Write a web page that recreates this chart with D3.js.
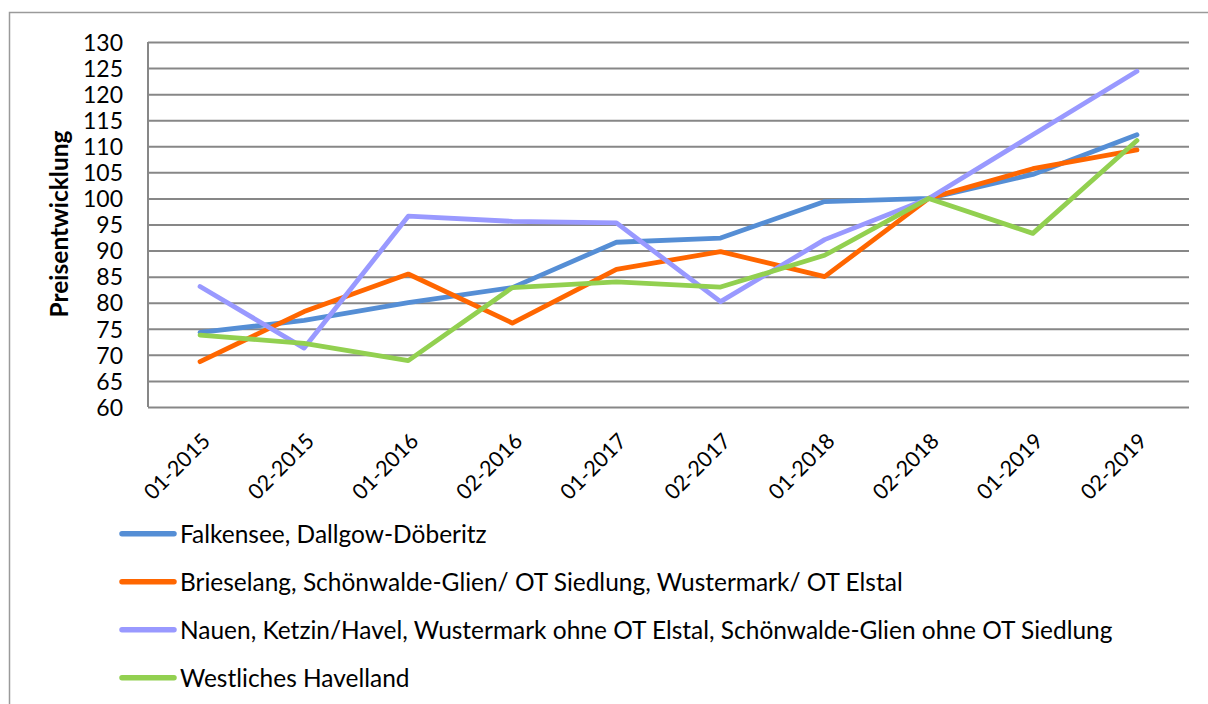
<!DOCTYPE html>
<html>
<head>
<meta charset="utf-8">
<script src="https://cdn.jsdelivr.net/npm/d3@7"></script>
<style>
  body { margin: 0; background: #fff; }
  svg { display: block; font-family: Lato, "Open Sans", sans-serif; }
</style>
</head>
<body>
<script>
const kategorien = ['01-2015', '02-2015', '01-2016', '02-2016', '01-2017', '02-2017', '01-2018', '02-2018', '01-2019', '02-2019'];

const falkensee = [74.3, 76.6, 80.0, 82.9, 91.6, 92.4, 99.4, 100, 104.6, 112.2];
const brieselang = [68.7, 78.3, 85.5, 76.1, 86.4, 89.8, 85.0, 100, 105.7, 109.3];
const nauen = [83.1, 71.3, 96.6, 95.6, 95.3, 80.2, 92.1, 100, 112.2, 124.4];
const westlich = [73.8, 72.2, 68.9, 82.9, 84.0, 83.0, 89.1, 100, 93.3, 111.1];

const serienNamen = [
  'Falkensee, Dallgow-Döberitz',
  'Brieselang, Schönwalde-Glien/ OT Siedlung, Wustermark/ OT Elstal',
  'Nauen, Ketzin/Havel, Wustermark ohne OT Elstal, Schönwalde-Glien ohne OT Siedlung',
  'Westliches Havelland'
];
const farben = ['#558ed5', '#ff6600', '#9999ff', '#92d050'];
const yTicks = d3.range(60, 131, 5);

const serien = [falkensee, brieselang, nauen, westlich];

const width = 1208;
const height = 704;

const svg = d3.select('body')
  .append('svg')
  .attr('width', width)
  .attr('height', height);

// rahmen
svg.append('rect')
  .attr('x', 9.5)
  .attr('y', 12.5)
  .attr('width', 1220)
  .attr('height', 720)
  .attr('fill', 'none')
  .attr('stroke', '#9a9a9a')
  .attr('stroke-width', 1.5);

const escalaX = d3.scalePoint()
  .domain(kategorien)
  .range([148, 1189])
  .padding(0.5);

const escalaY = d3.scaleLinear()
  .domain([60, 130])
  .range([407, 42]);

// gitter
const ejeY = d3.axisLeft(escalaY)
  .tickValues(yTicks)
  .tickSize(-(1189 - 148))
  .tickPadding(25);

const contenedorEjeY = svg.append('g')
  .attr('transform', 'translate(148,0)')
  .call(ejeY);

contenedorEjeY.select('.domain')
  .attr('stroke', '#878787')
  .attr('stroke-width', 2)
  .attr('d', `M0,${escalaY(60)}V${escalaY(130)}`);

contenedorEjeY.selectAll('line')
  .attr('stroke', '#878787')
  .attr('stroke-width', 2);

contenedorEjeY.selectAll('text')
  .attr('font-size', 23)
  .attr('fill', '#000')
  .attr('dy', '0.36em')
  .style('font-family', 'Lato, sans-serif');

// x beschriftung
svg.append('g')
  .selectAll('text')
  .data(kategorien)
  .join('text')
  .attr('transform', (d) => `translate(${escalaX(d) + 6},${437}) rotate(-45)`)
  .attr('text-anchor', 'end')
  .attr('dy', '0.36em')
  .attr('font-size', 21.5)
  .text((d) => d);

// linien
const linea = d3.line()
  .x((d, i) => escalaX(kategorien[i]))
  .y((d) => escalaY(d));

svg.append('g')
  .selectAll('path')
  .data(serien)
  .join('path')
  .attr('d', linea)
  .attr('fill', 'none')
  .attr('stroke', (d, i) => farben[i])
  .attr('stroke-width', 4.8)
  .attr('stroke-linejoin', 'round')
  .attr('stroke-linecap', 'round');

// y titel
const yTitle = svg.append('text')
  .attr('transform', 'rotate(-90)')
  .attr('x', -224)
  .attr('y', 68)
  .attr('text-anchor', 'middle')
  .attr('font-weight', 'bold')
  .attr('font-size', 20)
  .text('Preisentwicklung');

// legende
const legende = svg.append('g')
  .selectAll('g')
  .data(serienNamen)
  .join('g')
  .attr('transform', (d, i) => `translate(0,${533.7 + i * 48})`);

legende.append('line')
  .attr('x1', 122)
  .attr('x2', 174)
  .attr('stroke', (d, i) => farben[i])
  .attr('stroke-width', 5.5)
  .attr('stroke-linecap', 'round');

const legendText = legende.append('text')
  .attr('x', 180)
  .attr('dy', '0.36em')
  .attr('font-size', 23)
  .text((d) => d);

// schriftgroesse an die breite anpassen
const langer = legendText.filter((d, i) => i === 2).node().getComputedTextLength();
legendText.attr('font-size', 23 * 933 / langer);
const titelLen = yTitle.node().getComputedTextLength();
yTitle.attr('font-size', 20 * 187 / titelLen);
</script>
</body>
</html>
